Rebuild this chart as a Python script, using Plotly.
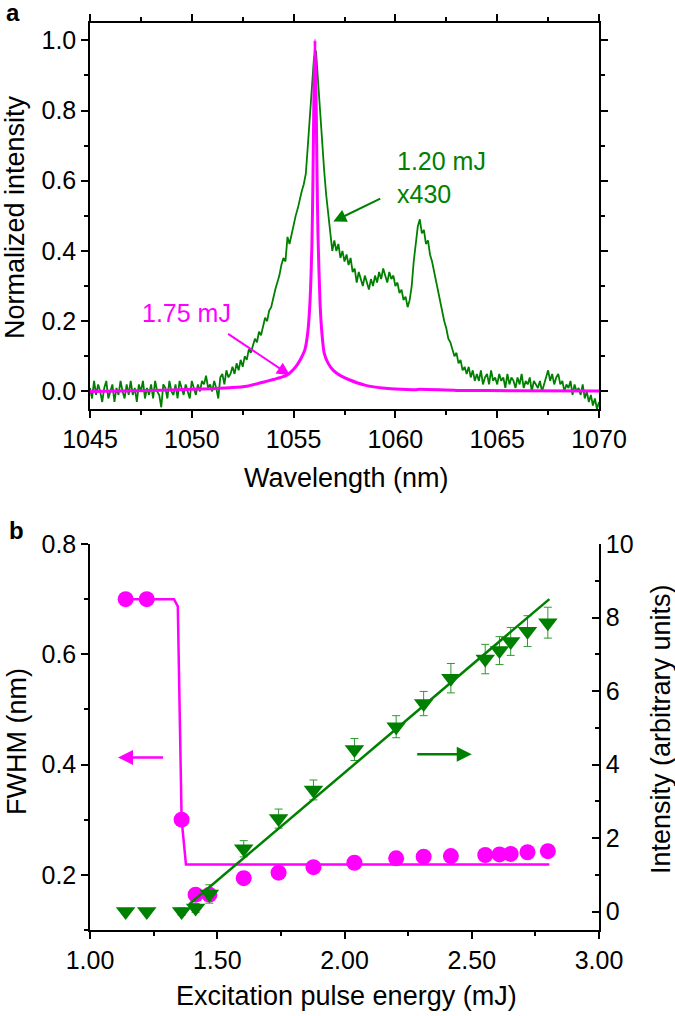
import plotly.graph_objects as go

# ---------------- Panel a data ----------------
# Green spectrum (1.20 mJ, x430), sampled every 0.1 nm starting at 1045.0 nm
green_int = [
    0.01, -0.02, 0.03, -0.01, 0.02, 0.00, -0.03, 0.01, 0.03, -0.02,   # 1045
    0.00, 0.02, -0.03, 0.01, -0.01, 0.03, 0.00, -0.02, 0.02, -0.01,   # 1046
    0.03, -0.01, 0.01, -0.03, 0.02, 0.00, 0.03, -0.02, 0.01, -0.01,   # 1047
    0.02, -0.02, 0.03, 0.00, -0.01, -0.045, 0.02, 0.01, -0.02, 0.03,  # 1048
    0.00, -0.01, 0.02, -0.02, 0.03, 0.01, -0.01, 0.02, 0.00, -0.02,   # 1049
    0.03, 0.01, -0.01, 0.02, 0.00, 0.03, 0.02, 0.045, 0.01, 0.02,     # 1050
    0.00, 0.03, 0.01, -0.02, 0.04, 0.05, 0.02, 0.06, 0.04, 0.05,      # 1051
    0.07, 0.05, 0.08, 0.06, 0.09, 0.07, 0.10, 0.09, 0.12, 0.11,       # 1052
    0.13, 0.15, 0.14, 0.17, 0.16, 0.19, 0.21, 0.20, 0.23, 0.24,       # 1053
    0.27, 0.29, 0.31, 0.33, 0.36, 0.38, 0.37, 0.44, 0.42, 0.45,       # 1054
    0.48, 0.50, 0.52, 0.55, 0.57, 0.59, 0.62, 0.70, 0.79, 0.88,       # 1055
    0.95, 0.97, 0.88, 0.80, 0.72, 0.63, 0.56, 0.50, 0.45, 0.40,       # 1056
    0.43, 0.40, 0.42, 0.38, 0.40, 0.37, 0.39, 0.36, 0.38, 0.34,       # 1057
    0.35, 0.31, 0.34, 0.32, 0.30, 0.33, 0.31, 0.29, 0.32, 0.30,       # 1058
    0.33, 0.31, 0.34, 0.32, 0.35, 0.33, 0.31, 0.34, 0.32, 0.33,       # 1059
    0.30, 0.31, 0.28, 0.29, 0.26, 0.27, 0.24, 0.26, 0.30, 0.37,       # 1060
    0.42, 0.47, 0.49, 0.45, 0.46, 0.42, 0.43, 0.39, 0.37, 0.34,       # 1061
    0.31, 0.28, 0.25, 0.22, 0.20, 0.18, 0.15, 0.14, 0.12, 0.10,       # 1062
    0.11, 0.08, 0.09, 0.06, 0.07, 0.05, 0.07, 0.04, 0.06, 0.03,       # 1063
    0.05, 0.03, 0.06, 0.02, 0.04, 0.05, 0.02, 0.06, 0.03, 0.04,       # 1064
    0.02, 0.05, 0.03, 0.04, 0.01, 0.05, 0.02, 0.04, 0.03, 0.01,       # 1065
    0.04, 0.02, 0.05, 0.01, 0.03, 0.02, 0.04, 0.00, 0.03, 0.02,       # 1066
    0.01, 0.03, 0.00, 0.02, 0.04, 0.06, 0.03, 0.05, 0.02, 0.04,       # 1067
    0.05, 0.02, 0.03, 0.00, 0.02, 0.01, 0.03, -0.01, 0.02, 0.00,      # 1068
    0.01, -0.01, 0.02, -0.02, 0.00, -0.03, -0.01, -0.04, -0.02, -0.05,  # 1069
    -0.03,                                                            # 1070
]
green_wl = [round(1045.0 + 0.1 * i, 1) for i in range(len(green_int))]

# Magenta spectrum (1.75 mJ)
magenta_wl = [1045.0, 1048.0, 1050.0, 1051.0, 1052.0, 1052.7, 1053.0, 1053.5, 1054.0,
              1054.5, 1054.8, 1055.0, 1055.2, 1055.4, 1055.56, 1055.7, 1055.8, 1055.9,
              1055.95, 1056.0, 1056.05, 1056.1, 1056.15, 1056.2, 1056.3, 1056.4, 1056.5,
              1056.7, 1056.95, 1057.3, 1057.7, 1058.5, 1059.5, 1061.0, 1061.2, 1063.0,
              1066.0, 1070.0]
magenta_int = [0.000, 0.003, 0.006, 0.008, 0.011, 0.015, 0.019, 0.026, 0.034,
               0.042, 0.052, 0.063, 0.078, 0.098, 0.12, 0.17, 0.25, 0.42,
               0.60, 0.85, 1.00, 0.86, 0.62, 0.44, 0.25, 0.16, 0.11,
               0.08, 0.06, 0.045, 0.034, 0.018, 0.009, 0.005, 0.006, 0.003,
               0.002, 0.001]

# ---------------- Panel b data ----------------
energy = [1.14, 1.223, 1.36, 1.415, 1.469, 1.604, 1.741, 1.878, 2.039,
          2.203, 2.311, 2.418, 2.553, 2.609, 2.653, 2.719, 2.799]
fwhm = [0.70, 0.70, 0.30, 0.164, 0.164, 0.194, 0.204, 0.214, 0.222,
        0.230, 0.233, 0.234, 0.236, 0.237, 0.238, 0.241, 0.243]
intensity = [0.0, 0.0, 0.0, 0.10, 0.48, 1.71, 2.53, 3.31, 4.41,
             5.03, 5.66, 6.35, 6.87, 7.10, 7.35, 7.63, 7.86]
intensity_err = [0.0, 0.0, 0.10, 0.12, 0.25, 0.22, 0.26, 0.27, 0.30,
                 0.30, 0.33, 0.40, 0.40, 0.38, 0.38, 0.42, 0.42]
fwhm_fit_x = [1.14, 1.33, 1.345, 1.36, 1.377, 2.805]
fwhm_fit_y = [0.70, 0.70, 0.687, 0.30, 0.219, 0.219]
int_fit_x = [1.39, 2.805]
int_fit_y = [0.20, 8.50]

MAG = "#FF00FF"
GRN = "#008000"
FONT = "Arial, 'Liberation Sans', sans-serif"
TICKF = dict(family=FONT, size=25, color="black")
W, H = 675, 1016

def px_x(p):
    return p / W

def px_y(p):
    return 1 - p / H

fig = go.Figure()

# Panel a traces
fig.add_trace(go.Scatter(x=green_wl, y=green_int, mode="lines",
                         line=dict(color=GRN, width=1.8), xaxis="x", yaxis="y",
                         showlegend=False))
fig.add_trace(go.Scatter(x=magenta_wl, y=magenta_int, mode="lines",
                         line=dict(color=MAG, width=3, shape="spline", smoothing=0.6),
                         xaxis="x", yaxis="y", showlegend=False))

# Panel b traces
fig.add_trace(go.Scatter(x=fwhm_fit_x, y=fwhm_fit_y, mode="lines",
                         line=dict(color=MAG, width=2.5), xaxis="x2", yaxis="y2",
                         showlegend=False))
fig.add_trace(go.Scatter(x=energy, y=fwhm, mode="markers",
                         marker=dict(color=MAG, size=16, symbol="circle"),
                         xaxis="x2", yaxis="y2", showlegend=False))
fig.add_trace(go.Scatter(x=energy, y=intensity, mode="markers",
                         marker=dict(color=GRN, size=17, symbol="triangle-down"),
                         error_y=dict(type="data", array=intensity_err, color="#2e9a2e",
                                      thickness=1, width=4),
                         xaxis="x2", yaxis="y3", showlegend=False))
fig.add_trace(go.Scatter(x=int_fit_x, y=int_fit_y, mode="lines",
                         line=dict(color=GRN, width=2.5), xaxis="x2", yaxis="y3",
                         showlegend=False))

xdom = [px_x(90), px_x(599)]
ydom_a = [px_y(409), px_y(22.7)]
ydom_b = [px_y(930), px_y(544)]

common = dict(showgrid=False, zeroline=False, showline=True, linecolor="black",
              linewidth=1.5, tickcolor="black", tickwidth=1.5, ticklen=7,
              tickfont=TICKF, automargin=False)

fig.update_layout(
    width=W, height=H,
    margin=dict(l=0, r=0, t=0, b=0, pad=0, autoexpand=False),
    paper_bgcolor="white", plot_bgcolor="white",
    xaxis=dict(domain=xdom, anchor="y", range=[1045, 1070], dtick=5, tick0=1045,
               ticks="outside", mirror="ticks",
               minor=dict(dtick=2.5, ticklen=4, ticks="outside", tickcolor="black",
                          tickwidth=1.5),
               **common),
    yaxis=dict(domain=ydom_a, anchor="x", range=[-0.05, 1.05], dtick=0.2, tick0=0,
               tickformat=".1f", ticks="outside", mirror="ticks",
               minor=dict(dtick=0.1, ticklen=4, ticks="outside", tickcolor="black",
                          tickwidth=1.5),
               **common),
    xaxis2=dict(domain=xdom, anchor="y2", range=[1, 3], dtick=0.5, tick0=1,
                tickformat=".2f", ticks="outside",
                minor=dict(dtick=0.25, ticklen=4, ticks="outside", tickcolor="black",
                           tickwidth=1.5),
                **common),
    xaxis3=dict(overlaying="x2", anchor="y2", side="top", range=[1, 3], dtick=0.25,
                tick0=1, ticks="inside", showticklabels=False, ticklen=6,
                showgrid=False, zeroline=False, showline=True, linecolor="black",
                linewidth=1.5, tickcolor="black", tickwidth=1.5, automargin=False),
    yaxis2=dict(domain=ydom_b, anchor="x2", range=[0.1, 0.8], dtick=0.2, tick0=0,
                tickformat=".1f", ticks="outside",
                minor=dict(dtick=0.1, ticklen=4, ticks="outside", tickcolor="black",
                           tickwidth=1.5),
                **common),
    yaxis3=dict(overlaying="y2", anchor="x2", side="right", range=[-0.5, 10], dtick=2,
                tick0=0, ticks="inside",
                minor=dict(dtick=1, ticklen=4, ticks="inside", tickcolor="black",
                           tickwidth=1.5),
                **common),
)

ann = []
# Axis titles
TF = dict(family=FONT, size=27, color="black")
ann.append(dict(text="Normalized intensity", x=px_x(15), y=px_y(217), xref="paper",
                yref="paper", textangle=-90, showarrow=False, font=TF,
                xanchor="center", yanchor="middle"))
ann.append(dict(text="Wavelength (nm)", x=px_x(346), y=px_y(478), xref="paper",
                yref="paper", showarrow=False, font=TF, xanchor="center",
                yanchor="middle"))
ann.append(dict(text="FWHM (nm)", x=px_x(17), y=px_y(742), xref="paper",
                yref="paper", textangle=-90, showarrow=False, font=TF,
                xanchor="center", yanchor="middle"))
ann.append(dict(text="Intensity (arbitrary units)", x=px_x(661), y=px_y(729),
                xref="paper", yref="paper", textangle=-90, showarrow=False, font=TF,
                xanchor="center", yanchor="middle"))
ann.append(dict(text="Excitation pulse energy (mJ)", x=px_x(346), y=px_y(996),
                xref="paper", yref="paper", showarrow=False, font=TF,
                xanchor="center", yanchor="middle"))
# Panel letters
PF = dict(family=FONT, size=24, color="black")
ann.append(dict(text="<b>a</b>", x=px_x(13), y=px_y(13), xref="paper", yref="paper",
                showarrow=False, font=PF, xanchor="center", yanchor="middle"))
ann.append(dict(text="<b>b</b>", x=px_x(16), y=px_y(530), xref="paper", yref="paper",
                showarrow=False, font=PF, xanchor="center", yanchor="middle"))

# Panel a labels and arrows
AF_G = dict(family=FONT, size=25, color=GRN)
AF_M = dict(family=FONT, size=25, color=MAG)
ann.append(dict(text="1.20 mJ", x=1060.0, y=0.655, xref="x", yref="y",
                showarrow=False, font=AF_G, xanchor="left", yanchor="middle"))
ann.append(dict(text="x430", x=1060.0, y=0.561, xref="x", yref="y",
                showarrow=False, font=AF_G, xanchor="left", yanchor="middle"))
ann.append(dict(text="1.75 mJ", x=1052.0, y=0.224, xref="x", yref="y",
                showarrow=False, font=AF_M, xanchor="right", yanchor="middle"))
ann.append(dict(text="", x=1056.95, y=0.484, ax=1059.33, ay=0.551, xref="x", yref="y",
                axref="x", ayref="y", showarrow=True, arrowhead=2, arrowsize=1.3,
                arrowwidth=2, arrowcolor=GRN))
ann.append(dict(text="", x=1054.82, y=0.046, ax=1051.71, ay=0.167, xref="x", yref="y",
                axref="x", ayref="y", showarrow=True, arrowhead=2, arrowsize=1.3,
                arrowwidth=2, arrowcolor=MAG))
# Panel b arrows
ann.append(dict(text="", x=1.11, y=0.413, ax=1.293, ay=0.413, xref="x2", yref="y2",
                axref="x2", ayref="y2", showarrow=True, arrowhead=2, arrowsize=1.2,
                arrowwidth=2.5, arrowcolor=MAG))
ann.append(dict(text="", x=2.50, y=4.28, ax=2.28, ay=4.28, xref="x2", yref="y3",
                axref="x2", ayref="y3", showarrow=True, arrowhead=2, arrowsize=1.2,
                arrowwidth=2.5, arrowcolor=GRN))

fig.update_layout(annotations=ann)
fig.write_html("out.html",
               config={"displayModeBar": False},
               post_script="document.body.style.margin='0px';"
                           "document.body.style.overflow='hidden';")
